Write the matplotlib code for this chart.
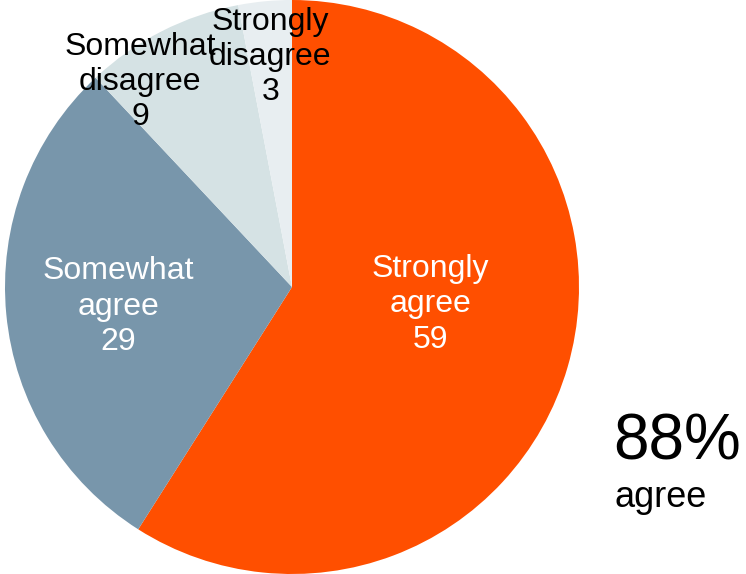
import numpy as np
import matplotlib.pyplot as plt

plt.rcParams['font.family'] = ['Liberation Sans', 'DejaVu Sans']

# data
categories = ['Strongly\nagree', 'Somewhat\nagree', 'Somewhat\ndisagree', 'Strongly\ndisagree']
values = [59, 29, 9, 3]
colors = ['#FF4F00', '#7896AB', '#D5E2E4', '#E8EEF1']
text_colors = ['white', 'white', 'black', 'black']
label_r = [0.485, 0.61, 0.89, 0.805]
label_shift = [9, 1, 9.5, 0]  # degrees, nudges label off the slice middle
headline = '88%'
headline_sub = 'agree'

fig = plt.figure(figsize=(7.46, 5.74), dpi=100)
ax = fig.add_axes([5 / 746, 0, 574 / 746, 1])

wedges, _ = ax.pie(values, colors=colors, startangle=90, counterclock=False,
                   radius=1, wedgeprops=dict(linewidth=0))

for w, lab, v, r, sh, tc in zip(wedges, categories, values, label_r, label_shift, text_colors):
    ang = np.deg2rad((w.theta1 + w.theta2) / 2 + sh)
    ax.text(r * np.cos(ang), r * np.sin(ang), f'{lab}\n{v}', ha='center', va='center',
            fontsize=23, color=tc, linespacing=1.22)

ax.set_xlim(-1, 1)
ax.set_ylim(-1, 1)
ax.set_aspect('equal')
ax.axis('off')

fig.text(613 / 746, 1 - 460 / 574, headline, fontsize=46, ha='left', va='baseline')
fig.text(614 / 746, 1 - 507 / 574, headline_sub, fontsize=26, ha='left', va='baseline')

fig.savefig('out.png', dpi=100)
